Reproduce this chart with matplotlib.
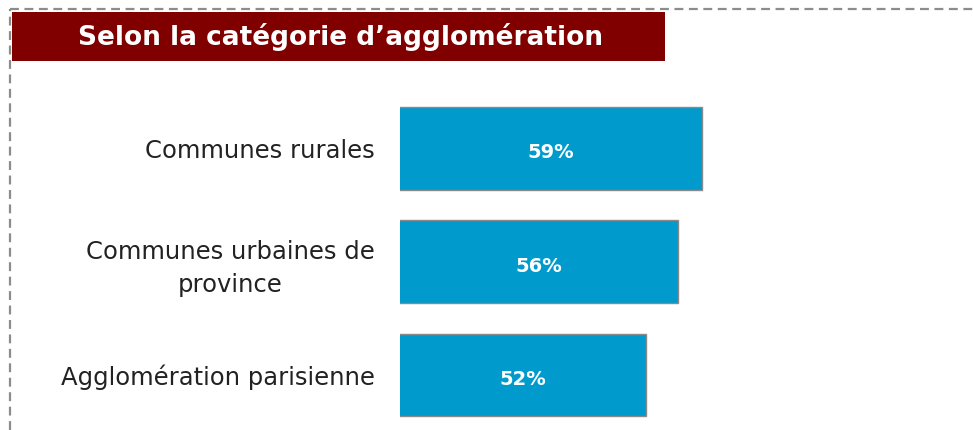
import matplotlib.pyplot as plt
from matplotlib.patches import Rectangle
from matplotlib.lines import Line2D

categories = ["Communes rurales", "Communes urbaines de\nprovince", "Agglomération parisienne"]
values = [59, 56, 52]
labels = ["59%", "56%", "52%"]
title = "Selon la catégorie d\u2019agglomération"

W, H = 973, 430
fig = plt.figure(figsize=(W / 100, H / 100), dpi=100)

# dashed frame (top and left only visible)
fig.add_artist(Line2D([10 / W, 1], [1 - 9 / H, 1 - 9 / H], color="#8c8c8c", lw=1.6,
                      linestyle=(0, (4, 2.5)), transform=fig.transFigure))
fig.add_artist(Line2D([10 / W, 10 / W], [0, 1 - 9 / H], color="#8c8c8c", lw=1.6,
                      linestyle=(0, (4, 2.5)), transform=fig.transFigure))

# title banner
fig.add_artist(Rectangle((12 / W, 1 - 61 / H), (665 - 12) / W, 49 / H, facecolor="#800000",
                         edgecolor="none", transform=fig.transFigure))
fig.text(340 / W, 1 - 37 / H, title, color="white", fontsize=19, fontweight="bold",
         ha="center", va="center")

ax = fig.add_axes([400 / W, (H - 431.75) / H, (W - 400) / W, 340 / H])
y = range(len(categories))
bars = ax.barh(y, values, height=0.73, color="#009bcc", edgecolor="#8a8a8a", linewidth=1)
ax.set_xlim(21.25, 21.25 + (W - 400) / 8)
ax.set_ylim(2.5, -0.5)
ax.set_yticks(list(y))
ax.set_yticklabels(categories, fontsize=17.5, color="#222222", multialignment="center",
                   linespacing=1.45)
ax.tick_params(axis="y", length=0, pad=18)
ax.set_xticks([])
for s in ax.spines.values():
    s.set_visible(False)

lo = ax.get_xlim()[0]
for b, lab in zip(bars, labels):
    ax.text((lo + b.get_width()) / 2, b.get_y() + b.get_height() / 2 + 0.04, lab,
            color="white", fontsize=14, fontweight="bold", ha="center", va="center")

fig.savefig("out.png", dpi=100)
